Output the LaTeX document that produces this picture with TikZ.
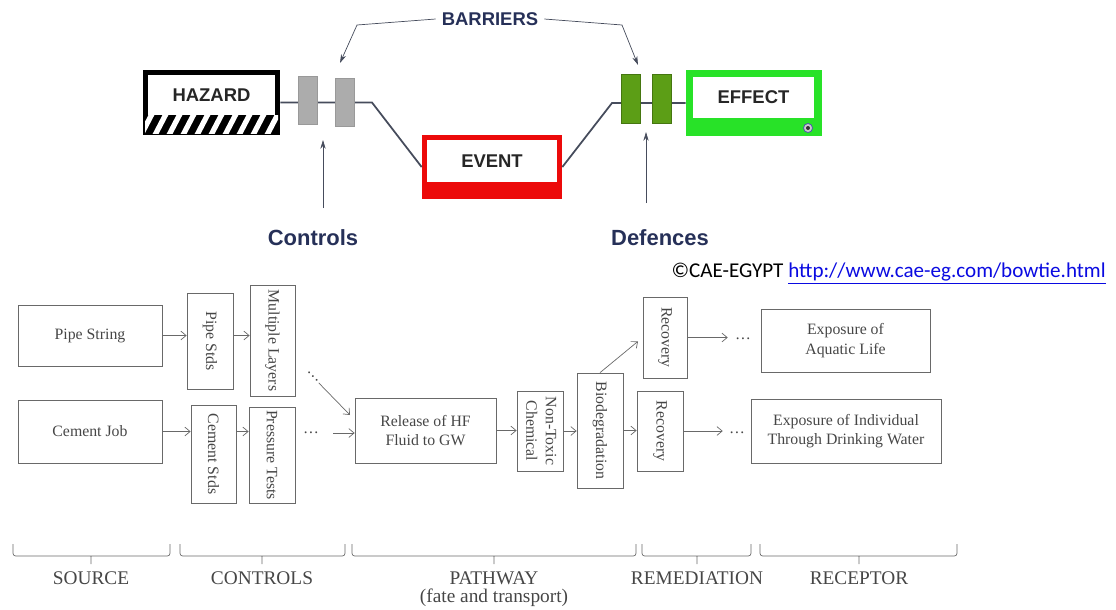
\documentclass[tikz,border=0pt]{standalone}
\usepackage{fontspec}
\setmainfont{Liberation Serif}
\setsansfont{Liberation Sans}
\newfontfamily\cae{Carlito}
\usepackage{graphicx}
\usetikzlibrary{arrows.meta}

\definecolor{navy}{RGB}{38,48,88}
\definecolor{tieline}{RGB}{70,76,92}
\definecolor{bargray}{RGB}{172,172,172}
\definecolor{bargreen}{RGB}{92,158,22}
\definecolor{effgreen}{RGB}{40,226,40}
\definecolor{evred}{RGB}{236,10,10}
\definecolor{flowgray}{RGB}{105,105,105}
\definecolor{flowtext}{RGB}{70,70,70}
\definecolor{linkblue}{RGB}{10,10,225}

\begin{document}
\begin{tikzpicture}[x=0.02cm, y=-0.02cm,
    bow text/.style={font=\sffamily\bfseries\fontsize{10.5}{12}\selectfont, text=black!85},
    label text/.style={font=\sffamily\bfseries\fontsize{12.5}{14}\selectfont, text=navy},
    gray bar/.style={rectangle, fill=bargray, draw=gray!80, minimum width=19*\px, minimum height=48*\px, inner sep=0pt},
    green bar/.style={rectangle, fill=bargreen, draw=bargreen!75!black, minimum width=19*\px, minimum height=49*\px, inner sep=0pt},
    tie line/.style={draw=tieline, line width=1pt},
    note arrow/.style={draw=tieline, thin, -{Stealth[length=5pt,width=3pt]}},
    flow node/.style={draw=flowgray, text=flowtext, inner sep=1pt, align=center, font=\fontsize{9}{11}\selectfont},
    flow arrow/.style={draw=flowgray, -{Straight Barb[length=3pt,width=5pt]}},
    dots node/.style={text=flowtext, inner sep=0pt, font=\fontsize{9}{11}\selectfont},
    span brace/.style={draw=flowgray, rounded corners=1.5pt},
    span text/.style={text=flowtext, font=\fontsize{11}{13}\selectfont},
  ]
  \def\px{0.02cm}
  \useasboundingbox (0,0) rectangle (1116,609);

  % ボウタイ図
  \node[fill=black, minimum width=137*\px, minimum height=65*\px, inner sep=0pt] (hazard) at (211.5,102.5) {};
  \begin{scope}
    \clip (145,115.5) rectangle (278,133.5);
    \foreach \x in {126,140,...,290}
      \draw[white, line width=3pt] (\x,137) -- (\x+13,112);
  \end{scope}
  \node[bow text, fill=white, minimum width=127*\px, minimum height=40*\px, inner sep=0pt] (hazardin) at (211.5,95) {HAZARD};

  \node[fill=evred, minimum width=140*\px, minimum height=64*\px, inner sep=0pt] (event) at (492,167) {};
  \node[bow text, fill=white, minimum width=130*\px, minimum height=42*\px, inner sep=0pt] (eventin) at (492,161) {EVENT};

  \node[fill=effgreen, minimum width=136*\px, minimum height=66*\px, inner sep=0pt] (effect) at (754,103) {};
  \node[bow text, fill=white, minimum width=121*\px, minimum height=41*\px, inner sep=0pt] (effectin) at (753.5,97.5) {EFFECT};
  \node[circle, fill=gray!40, draw=gray!60!blue, minimum size=9*\px, inner sep=0pt] (effectmark) at (808,128) {};
  \fill[black!80] (effectmark) circle[radius=2];

  \coordinate (bendL) at (372,102.5);
  \coordinate (bendR) at (612,103);
  \draw[tie line] (hazard.east) -- (bendL) -- (event.west);
  \draw[tie line] (event.east) -- (bendR) -- (effect.west);

  \node[gray bar] (bar1) at (308,100) {};
  \node[gray bar] (bar2) at (345,102) {};
  \node[green bar] (bar3) at (630.5,98.5) {};
  \node[green bar] (bar4) at (661.5,98.5) {};

  \node[font=\sffamily\bfseries\fontsize{10.5}{12}\selectfont, text=navy] (barriers) at (490,19) {BARRIERS};
  \coordinate (bkL) at (357,25);
  \coordinate (tipL) at (340,63);
  \coordinate (bkR) at (622,25);
  \coordinate (tipR) at (638,65);
  \draw[note arrow] (barriers.west) -- (bkL) -- (tipL);
  \draw[note arrow] (barriers.east) -- (bkR) -- (tipR);

  \node[label text] (controls) at (313,238) {Controls};
  \node[label text] (defences) at (660,238) {Defences};
  \coordinate (ctrlFoot) at (323,208);
  \coordinate (ctrlTip) at (323,140);
  \coordinate (defFoot) at (646,203);
  \coordinate (defTip) at (646,132);
  \draw[note arrow] (ctrlFoot) -- (ctrlTip);
  \draw[note arrow] (defFoot) -- (defTip);

  \node[anchor=base east, inner sep=0pt, font=\cae\fontsize{12}{14}\selectfont] (credit) at (1106,277)
    {\textcopyright CAE-EGYPT \textcolor{linkblue}{\underline{http://www.cae-eg.com/bowtie.html}}};

  % 下の図
  \node[flow node, minimum width=144*\px, minimum height=61*\px] (pipe) at (90,335.5) {Pipe String};
  \node[flow node, minimum width=144*\px, minimum height=63*\px] (cement) at (90,431.5) {Cement Job};
  \node[flow node, minimum width=46*\px, minimum height=96*\px] (pipestds) at (210,341) {\rotatebox{-90}{Pipe Stds}};
  \node[flow node, minimum width=45*\px, minimum height=111*\px] (layers) at (272.5,340.5) {\rotatebox{-90}{Multiple Layers}};
  \node[flow node, minimum width=45*\px, minimum height=98*\px] (cementstds) at (213.5,454) {\rotatebox{-90}{Cement Stds}};
  \node[flow node, minimum width=46*\px, minimum height=96*\px] (pressure) at (272,455) {\rotatebox{-90}{Pressure Tests}};
  \node[flow node, minimum width=141*\px, minimum height=65*\px] (release) at (425.5,430.5) {Release of HF\\Fluid to GW};
  \node[flow node, minimum width=46*\px, minimum height=80*\px] (nontoxic) at (540,431)
    {\rotatebox{-90}{\begin{tabular}{@{}c@{}}Non-Toxic\\Chemical\end{tabular}}};
  \node[flow node, minimum width=46*\px, minimum height=115*\px] (biodeg) at (600,430.5) {\rotatebox{-90}{Biodegradation}};
  \node[flow node, minimum width=44*\px, minimum height=81*\px] (recov1) at (665,337.5) {\rotatebox{-90}{Recovery}};
  \node[flow node, minimum width=46*\px, minimum height=80*\px] (recov2) at (660,431) {\rotatebox{-90}{Recovery}};
  \node[flow node, minimum width=169*\px, minimum height=63*\px] (aquatic) at (845.5,340.5) {Exposure of\\Aquatic Life};
  \node[flow node, minimum width=190*\px, minimum height=64*\px] (individual) at (846,431) {Exposure of Individual\\Through Drinking Water};

  \node[dots node, rotate=-45] (dotsA) at (313,377) {\dots};
  \node[dots node] (dotsB) at (311,433) {\dots};
  \node[dots node] (dotsC) at (743,339) {\dots};
  \node[dots node] (dotsD) at (737,433) {\dots};
  \coordinate (relin) at (350,415);

  \draw[flow arrow] (pipe.east) -- (pipe.east -| pipestds.west);
  \draw[flow arrow] (pipestds.east |- pipe.east) -- (layers.west |- pipe.east);
  \draw[flow arrow] (cement.east) -- (cement.east -| cementstds.west);
  \draw[flow arrow] (cementstds.east |- cement.east) -- (pressure.west |- cement.east);
  \draw[flow arrow] (dotsA) -- (relin);
  \draw[flow arrow, shorten <=0.28cm] (dotsB.east) -- (dotsB.east -| release.west);
  \draw[flow arrow] (release.east) -- (release.east -| nontoxic.west);
  \draw[flow arrow] (nontoxic.east) -- (nontoxic.east -| biodeg.west);
  \draw[flow arrow, shorten >=0.12cm] (biodeg.north) -- (recov1.west);
  \draw[flow arrow] (biodeg.east) -- (biodeg.east -| recov2.west);
  \draw[flow arrow, shorten >=0.14cm] (recov1.east) -- (recov1.east -| dotsC.west);
  \draw[flow arrow, shorten >=0.12cm] (recov2.east) -- (recov2.east -| dotsD.west);

  \draw[span brace] (13,544) -- (13,556) -- (170,556) -- (170,544) (91,556) -- (91,564);
  \draw[span brace] (180,544) -- (180,556) -- (345,556) -- (345,544) (262,556) -- (262,564);
  \draw[span brace] (352,544) -- (352,556) -- (636,556) -- (636,544) (494,556) -- (494,564);
  \draw[span brace] (642,544) -- (642,556) -- (751,556) -- (751,544) (697,556) -- (697,564);
  \draw[span brace] (760,544) -- (760,556) -- (957,556) -- (957,544) (859,556) -- (859,564);

  \node[span text] (source) at (91,578) {SOURCE};
  \node[span text] (controlsspan) at (262,578) {CONTROLS};
  \node[span text] (pathway) at (494,578) {PATHWAY};
  \node[span text] (fate) at (494,598) {(fate and transport)};
  \node[span text] (remediation) at (697,578) {REMEDIATION};
  \node[span text] (receptor) at (859,578) {RECEPTOR};
\end{tikzpicture}
\end{document}
